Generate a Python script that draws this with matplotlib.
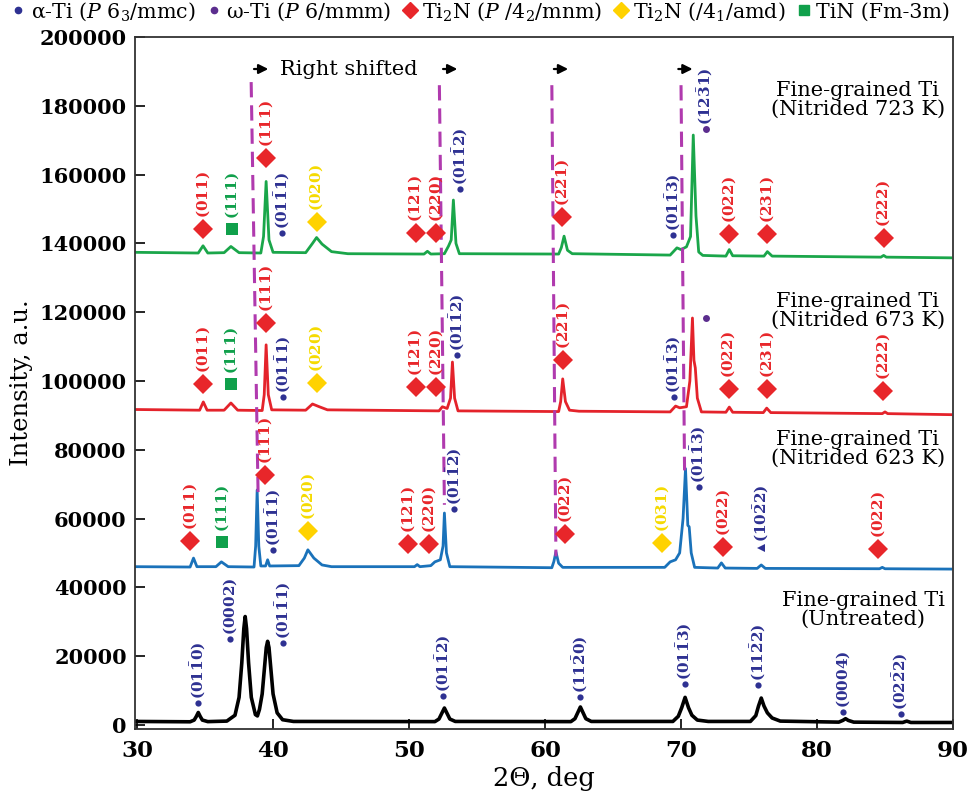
import matplotlib
matplotlib.use("Agg")
import matplotlib.pyplot as plt
from matplotlib.lines import Line2D

plt.rcParams["font.family"] = ["DejaVu Serif"]
plt.rcParams["mathtext.fontset"] = "dejavuserif"

# --- XRD patterns, key points (2theta, intensity) ---
black_x = [29.85, 33.9, 34.2, 34.35, 34.5, 34.65, 34.8, 35.2, 36.6, 37.2, 37.5, 37.7, 37.85, 37.95, 38.05,
           38.2, 38.4, 38.7, 38.85, 39.0, 39.2, 39.4, 39.5, 39.6, 39.7, 39.8, 40.0, 40.3, 40.7, 41.5,
           51.9, 52.2, 52.4, 52.6, 52.8, 53.0, 53.4, 61.9, 62.2, 62.4, 62.6, 62.8, 63.0, 63.4,
           69.4, 69.8, 70.05, 70.3, 70.55, 70.8, 71.2, 72.0, 75.1, 75.5, 75.7, 75.9, 76.1, 76.35, 76.7,
           77.3, 81.6, 81.9, 82.1, 82.3, 82.7, 86.3, 86.6, 86.9, 89.85]
black_y = [1000, 900, 1400, 2400, 3600, 2400, 1400, 950, 1100, 2800, 8000, 18000, 28000, 31500, 28000,
           18000, 8000, 3000, 2600, 4500, 9000, 18000, 22500, 24300, 22500, 18000, 9000, 3500, 1500, 1000,
           950, 1700, 3300, 4900, 3300, 1700, 1000, 950, 1800, 3500, 5200, 3500, 1800, 1000,
           1000, 2500, 5000, 8000, 5000, 2800, 1400, 1000, 1000, 2700, 5500, 7800, 5500, 3500, 2000,
           1100, 800, 1300, 1800, 1300, 800, 700, 1100, 700, 700]

green_x = [29.85, 34.5, 34.85, 35.2, 36.4, 36.9, 37.5, 39.1, 39.3, 39.49, 39.7, 40.0, 42.4, 42.9, 43.2,
           43.6, 44.3, 45.5, 51.1, 51.35, 51.6, 52.6, 52.9, 53.1, 53.26, 53.45, 53.7, 61.0, 61.2,
           61.4, 61.65, 62.0, 69.2, 69.7, 70.0, 70.4, 70.7, 70.9, 71.1, 71.3, 71.6, 73.3, 73.55,
           73.8, 76.1, 76.35, 76.7, 84.7, 84.9, 85.1, 89.85]
green_y = [137400, 137200, 139300, 137200, 137300, 139100, 137300, 137200, 142000, 158000, 141000, 137400,
           137300, 140000, 141700, 139800, 137600, 137000, 136900, 137700, 136900, 137000, 139200, 141000,
           152600, 140000, 137000, 136900, 138800, 142100, 138000, 137000, 136600, 138700, 138200, 139000,
           142000, 171500, 148000, 137500, 136500, 136300, 138200, 136400, 136300, 137600, 136300, 136000,
           136500, 136000, 135800]

red_x = [29.85, 34.6, 34.87, 35.15, 36.4, 36.9, 37.4, 39.2, 39.35, 39.49, 39.65, 39.9, 42.4, 42.9, 43.4,
         44.0, 52.2, 52.45, 52.8, 53.05, 53.19, 53.35, 53.6, 61.0, 61.15, 61.3, 61.5, 61.8, 62.5,
         69.2, 69.6, 69.9, 70.4, 70.65, 70.84, 70.95, 71.05, 71.2, 71.5, 73.3, 73.55, 73.8, 76.05,
         76.3, 76.6, 84.8, 85.0, 85.2, 89.85]
red_y = [91700, 91500, 93900, 91500, 91500, 93600, 91500, 91400, 96000, 110500, 96000, 91600, 91500, 93300,
         92500, 91600, 91300, 92500, 92000, 95000, 105500, 95000, 91300, 91100, 94000, 100600, 94000,
         91500, 91200, 91000, 92700, 92200, 92500, 100000, 118300, 106000, 103800, 95000, 91000, 90900,
         92400, 90900, 90800, 92100, 90800, 90500, 91000, 90500, 90200]

blue_x = [29.85, 33.9, 34.15, 34.4, 35.8, 36.2, 36.7, 38.6, 38.72, 38.83, 38.95, 39.1, 39.45, 39.6, 39.75,
          41.9, 42.3, 42.56, 43.0, 43.6, 44.3, 50.4, 50.6, 50.8, 51.6, 51.9, 52.3, 52.5, 52.6, 52.75,
          53.0, 60.5, 60.65, 60.8, 61.0, 61.3, 68.8, 69.2, 69.6, 69.9, 70.15, 70.33, 70.5, 70.6, 70.75,
          71.0, 72.7, 72.97, 73.25, 75.6, 75.9, 76.2, 84.6, 84.8, 85.0, 89.85]
blue_y = [46000, 45900, 48500, 46000, 46000, 47400, 46000, 45900, 52000, 68300, 52000, 46200, 46200, 48000,
          46200, 46300, 48500, 50900, 48500, 46500, 46000, 46000, 46600, 46000, 46300, 47400, 48000, 52000,
          61600, 50000, 46000, 45700, 47500, 50300, 47000, 45800, 45800, 47400, 48000, 50000, 60000, 74500,
          58000, 57600, 50000, 45800, 45600, 47100, 45600, 45500, 46500, 45500, 45400, 45800, 45400, 45300]

# --- peak labels: position, Miller index, phase ---
# phases: a = alpha-Ti, w = omega-Ti, r = Ti2N (P4_2/mnm), y = Ti2N (I4_1/amd), g = TiN, t = alpha-Ti (triangle)
green_lab_x = [34.87, 36.97, 39.49, 40.66, 43.2, 50.48, 52.0, 53.77, 61.25, 69.4, 71.8, 73.55, 76.3, 84.9]
green_lab_y = [144200, 144200, 164800, 143000, 146200, 143000, 143000, 155800, 147700, 142400, 173300,
               142700, 142700, 141600]
green_lab = ["(011)", "(111)", "(111)", r"(01\bar{1}1)", "(020)", "(121)", "(220)", r"(01\bar{1}2)",
             "(221)", r"(01\bar{1}3)", r"(12\bar{3}1)", "(022)", "(231)", "(222)"]
green_phase = ["r", "g", "r", "a", "y", "r", "r", "a", "r", "a", "w", "r", "r", "r"]

red_lab_x = [34.87, 36.9, 39.49, 40.73, 43.2, 50.48, 52.0, 53.55, 61.3, 69.45, 71.8, 73.5, 76.3, 84.83]
red_lab_y = [99100, 99100, 116900, 95300, 99400, 98300, 98300, 107600, 106100, 95300, 118300, 97700,
             97700, 97100]
red_lab = ["(011)", "(111)", "(111)", r"(01\bar{1}1)", "(020)", "(121)", "(220)", r"(01\bar{1}2)",
           "(221)", r"(01\bar{1}3)", "", "(022)", "(231)", "(222)"]
red_phase = ["r", "g", "r", "a", "y", "r", "r", "a", "r", "a", "w", "r", "r", "r"]

blue_lab_x = [33.92, 36.26, 39.41, 40.0, 42.56, 49.9, 51.5, 53.33, 61.46, 68.6, 71.3, 73.1, 75.9, 84.5]
blue_lab_y = [53500, 53200, 72700, 50900, 56400, 52600, 52600, 62800, 55500, 52900, 69200, 51700,
              51500, 51200]
blue_lab = ["(011)", "(111)", "(111)", r"(01\bar{1}1)", "(020)", "(121)", "(220)", r"(01\bar{1}2)",
            "(022)", "(031)", r"(01\bar{1}3)", "(022)", r"(10\bar{2}2)", "(022)"]
blue_phase = ["r", "g", "r", "a", "y", "r", "r", "a", "r", "y", "a", "r", "t", "r"]

black_lab_x = [34.5, 36.85, 40.73, 52.53, 62.56, 70.26, 75.68, 81.9, 86.15]
black_lab_y = [6400, 25000, 23800, 8400, 8100, 11900, 11600, 3800, 3200]
black_lab = [r"(01\bar{1}0)", "(0002)", r"(01\bar{1}1)", r"(01\bar{1}2)", r"(11\bar{2}0)",
             r"(01\bar{1}3)", r"(11\bar{2}2)", "(0004)", r"(02\bar{2}2)"]
black_phase = ["a"] * 9

# shifted-peak guide lines (x at top, x at bottom, y top, y bottom)
guide_x0 = [38.39, 52.23, 60.5, 70.0]
guide_x1 = [38.9, 52.6, 60.8, 70.26]
guide_y0 = [186900, 186000, 186000, 186000]
guide_y1 = [66900, 64000, 49000, 74000]
arrow_x = [39.2, 53.1, 61.25, 70.4]

sample_names = ["Fine-grained Ti\n(Nitrided 723 K)", "Fine-grained Ti\n(Nitrided 673 K)",
                "Fine-grained Ti\n(Nitrided 623 K)", "Fine-grained Ti\n(Untreated)"]
sample_x = [83.0, 83.0, 83.0, 83.4]
sample_y = [181700, 120300, 80200, 33400]

navy = "#2E3192"
phase_style = {
    "a": dict(marker="o", mc=navy, ms=4.5, tc=navy, off=3),
    "t": dict(marker="<", mc=navy, ms=6, tc=navy, off=4),
    "w": dict(marker="o", mc="#5B2D8E", ms=5, tc=navy, off=3),
    "r": dict(marker="D", mc="#E8262A", ms=10, tc="#E8262A", off=8),
    "y": dict(marker="D", mc="#FFD200", ms=10, tc="#F5DA00", off=8),
    "g": dict(marker="s", mc="#10A04B", ms=8.5, tc="#10A04B", off=7),
}

fig = plt.figure(figsize=(9.68, 8.05), dpi=100)
ax = fig.add_axes([0.1395, 0.0944, 0.845, 0.8596])

ax.plot(black_x, black_y, color="black", lw=2.6, solid_joinstyle="round")
ax.plot(blue_x, blue_y, color="#1A72BA", lw=2.0, solid_joinstyle="round")
ax.plot(red_x, red_y, color="#E4232B", lw=2.0, solid_joinstyle="round")
ax.plot(green_x, green_y, color="#1AA64A", lw=2.0, solid_joinstyle="round")

for gx0, gx1, gy0, gy1 in zip(guide_x0, guide_x1, guide_y0, guide_y1):
    ax.plot([gx0, gx1], [gy0, gy1], color="#B03AAE", lw=2.2, dashes=(5, 2.6))

for axx in arrow_x:
    ax.annotate("", xy=(axx + 0.45, 190700), xytext=(axx - 0.6, 190700),
                arrowprops=dict(arrowstyle="-|>", color="black", lw=1.6, mutation_scale=14,
                                shrinkA=0, shrinkB=0))
ax.text(40.5, 190700, "Right shifted", fontsize=15, va="center", ha="left")

groups = [(green_lab_x, green_lab_y, green_lab, green_phase),
          (red_lab_x, red_lab_y, red_lab, red_phase),
          (blue_lab_x, blue_lab_y, blue_lab, blue_phase),
          (black_lab_x, black_lab_y, black_lab, black_phase)]
for lx, ly, labs, phases in groups:
    for x, y, lab, ph in zip(lx, ly, labs, phases):
        st = phase_style[ph]
        ax.plot(x, y, marker=st["marker"], color=st["mc"], ms=st["ms"], ls="none", mew=0)
        if lab:
            ax.annotate(r"$\mathbf{" + lab + "}$", (x, y), xytext=(0, st["off"]),
                        textcoords="offset points", rotation=90, ha="center", va="bottom",
                        color=st["tc"], fontsize=11)

for name, sx, sy in zip(sample_names, sample_x, sample_y):
    ax.text(sx, sy, name, fontsize=15, ha="center", va="center", multialignment="center",
            linespacing=1.0)

ax.set_xlim(29.85, 89.9)
ax.set_ylim(-1200, 200000)
ax.set_xticks([30, 40, 50, 60, 70, 80, 90])
ax.set_yticks(range(0, 200001, 20000))
ax.tick_params(direction="in", length=7, width=1.2)
ax.tick_params(axis="y", labelsize=15, pad=6)
ax.tick_params(axis="x", labelsize=16.5, pad=8)
for lbl in ax.get_xticklabels() + ax.get_yticklabels():
    lbl.set_fontweight("bold")
for sp in ax.spines.values():
    sp.set_color("#333333")
    sp.set_linewidth(1.3)

ax.set_xlabel("2Θ, deg", fontsize=18.5, labelpad=3)
ax.set_ylabel("Intensity, a.u.", fontsize=17.5, labelpad=5)

handles = [
    Line2D([], [], marker="o", color=navy, ms=4.5, ls="none"),
    Line2D([], [], marker="o", color="#5B2D8E", ms=4.5, ls="none"),
    Line2D([], [], marker="D", color="#E8262A", ms=8, ls="none"),
    Line2D([], [], marker="D", color="#FFD200", ms=8, ls="none"),
    Line2D([], [], marker="s", color="#10A04B", ms=7, ls="none"),
]
labels = [r"α-Ti ($P$ 6$_3$/mmc)", r"ω-Ti ($P$ 6/mmm)", r"Ti$_2$N ($P$ /4$_2$/mnm)",
          r"Ti$_2$N (/4$_1$/amd)", "TiN (Fm-3m)"]
fig.legend(handles, labels, loc="upper center", bbox_to_anchor=(0.497, 1.01), ncol=5, frameon=False,
           fontsize=14.8, handlelength=0.6, handletextpad=0.3, columnspacing=0.6, borderaxespad=0)

fig.savefig("out.png", dpi=100)
